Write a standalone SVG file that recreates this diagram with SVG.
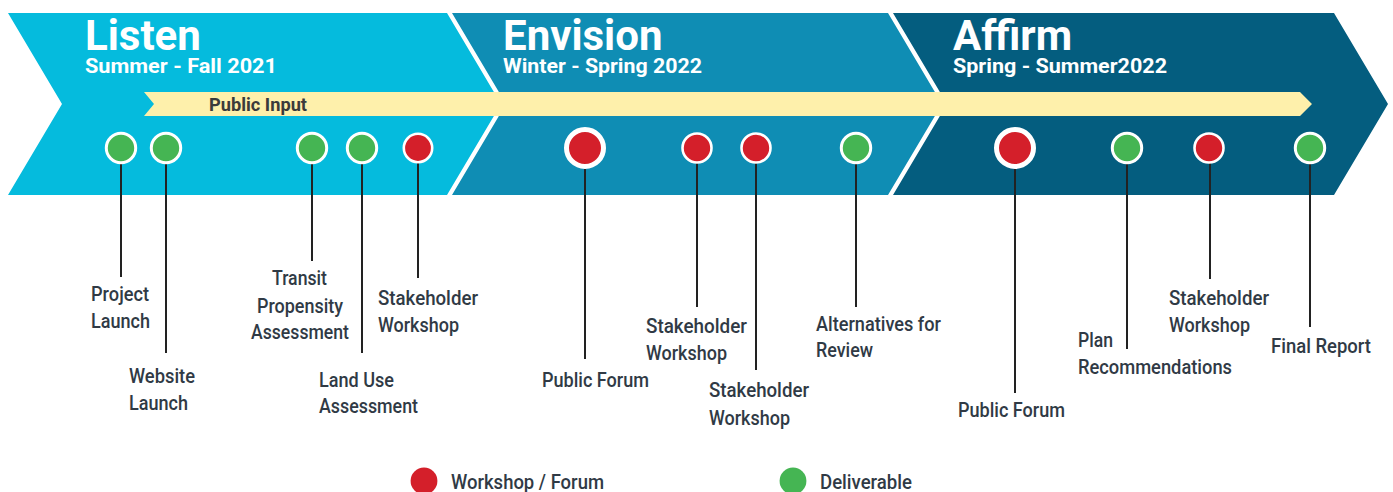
<svg xmlns="http://www.w3.org/2000/svg" width="1393" height="492" viewBox="0 0 1393 492">
<style>
.title{font-family:Roboto,"Liberation Sans",sans-serif;font-weight:700;font-size:42px;fill:#ffffff}
.sub{font-family:Roboto,"Liberation Sans",sans-serif;font-weight:700;font-size:21px;fill:#ffffff}
.lbl{font-family:Roboto,"Liberation Sans",sans-serif;font-weight:500;font-size:20px;fill:#303a45}
.pi{font-family:Roboto,"Liberation Sans",sans-serif;font-weight:700;font-size:17.5px;fill:#3b3b3b}
.g{fill:#45b553;stroke:#ffffff;stroke-width:3}
.r{fill:#d41f2a;stroke:#ffffff;stroke-width:2.6}
.rb{fill:#d41f2a;stroke:#ffffff;stroke-width:5}
.ln{stroke:#222222;stroke-width:2;fill:none}
</style>
<rect width="1393" height="492" fill="#ffffff"/>
<g id="phase-listen">
<polygon points="8,13 447,13 501,104 447,195 8,195 62,104" fill="#05bbdd"/>
<text class="title" x="85" y="50">Listen</text>
<text class="sub" x="85" y="73" textLength="192" lengthAdjust="spacingAndGlyphs">Summer - Fall 2021</text>
</g>
<g id="phase-envision">
<polygon points="452,13 888,13 942,104 888,195 452,195 506,104" fill="#0f8db4"/>
<text class="title" x="503" y="50">Envision</text>
<text class="sub" x="503" y="73" textLength="199" lengthAdjust="spacingAndGlyphs">Winter - Spring 2022</text>
</g>
<g id="phase-affirm">
<polygon points="893,13 1334,13 1388,104 1334,195 893,195 947,104" fill="#045d7f"/>
<text class="title" x="953" y="50">Affirm</text>
<text class="sub" x="953" y="73" textLength="214" lengthAdjust="spacingAndGlyphs">Spring - Summer2022</text>
</g>
<g id="public-input">
<polygon points="144,92 1300,92 1312,104 1300,116 144,116 154,104" fill="#fef0ab"/>
<text class="pi" x="209" y="111" textLength="98" lengthAdjust="spacingAndGlyphs">Public Input</text>
</g>
<g id="connectors">
<line class="ln" x1="121" y1="163" x2="121" y2="277"/>
<line class="ln" x1="166" y1="163" x2="166" y2="353"/>
<line class="ln" x1="312" y1="163" x2="312" y2="261"/>
<line class="ln" x1="362" y1="163" x2="362" y2="353"/>
<line class="ln" x1="418" y1="163" x2="418" y2="278"/>
<line class="ln" x1="585" y1="169" x2="585" y2="359"/>
<line class="ln" x1="697" y1="163" x2="697" y2="307"/>
<line class="ln" x1="756" y1="163" x2="756" y2="370"/>
<line class="ln" x1="856" y1="163" x2="856" y2="307"/>
<line class="ln" x1="1015" y1="169" x2="1015" y2="393"/>
<line class="ln" x1="1127" y1="163" x2="1127" y2="349"/>
<line class="ln" x1="1210" y1="163" x2="1210" y2="279"/>
<line class="ln" x1="1310" y1="163" x2="1310" y2="327"/>
</g>
<g id="project-launch">
<circle class="g" cx="121" cy="148" r="14.7"/>
<text class="lbl" x="91" y="301" textLength="58" lengthAdjust="spacingAndGlyphs">Project</text>
<text class="lbl" x="91" y="328" textLength="59" lengthAdjust="spacingAndGlyphs">Launch</text>
</g>
<g id="website-launch">
<circle class="g" cx="166" cy="148" r="14.7"/>
<text class="lbl" x="129" y="383" textLength="66" lengthAdjust="spacingAndGlyphs">Website</text>
<text class="lbl" x="129" y="410" textLength="59" lengthAdjust="spacingAndGlyphs">Launch</text>
</g>
<g id="transit-propensity">
<circle class="g" cx="312" cy="148" r="14.7"/>
<text class="lbl" x="272" y="285" textLength="55" lengthAdjust="spacingAndGlyphs">Transit</text>
<text class="lbl" x="257" y="313" textLength="86" lengthAdjust="spacingAndGlyphs">Propensity</text>
<text class="lbl" x="251" y="339" textLength="98" lengthAdjust="spacingAndGlyphs">Assessment</text>
</g>
<g id="land-use">
<circle class="g" cx="362" cy="148" r="14.7"/>
<text class="lbl" x="319" y="387" textLength="75" lengthAdjust="spacingAndGlyphs">Land Use</text>
<text class="lbl" x="319" y="413" textLength="99" lengthAdjust="spacingAndGlyphs">Assessment</text>
</g>
<g id="stakeholder-1">
<circle class="r" cx="418" cy="148" r="14.2"/>
<text class="lbl" x="378" y="305" textLength="100" lengthAdjust="spacingAndGlyphs">Stakeholder</text>
<text class="lbl" x="378" y="332" textLength="81" lengthAdjust="spacingAndGlyphs">Workshop</text>
</g>
<g id="public-forum-1">
<circle class="rb" cx="585" cy="148" r="18.5"/>
<text class="lbl" x="542" y="387" textLength="107" lengthAdjust="spacingAndGlyphs">Public Forum</text>
</g>
<g id="stakeholder-2">
<circle class="r" cx="697" cy="148" r="14.5"/>
<text class="lbl" x="646" y="333" textLength="101" lengthAdjust="spacingAndGlyphs">Stakeholder</text>
<text class="lbl" x="646" y="360" textLength="81" lengthAdjust="spacingAndGlyphs">Workshop</text>
</g>
<g id="stakeholder-3">
<circle class="r" cx="756" cy="148" r="14.5"/>
<text class="lbl" x="709" y="397" textLength="100" lengthAdjust="spacingAndGlyphs">Stakeholder</text>
<text class="lbl" x="709" y="425" textLength="81" lengthAdjust="spacingAndGlyphs">Workshop</text>
</g>
<g id="alternatives">
<circle class="g" cx="856" cy="148" r="14.7"/>
<text class="lbl" x="816" y="331" textLength="125" lengthAdjust="spacingAndGlyphs">Alternatives for</text>
<text class="lbl" x="816" y="357" textLength="57" lengthAdjust="spacingAndGlyphs">Review</text>
</g>
<g id="public-forum-2">
<circle class="rb" cx="1015" cy="148" r="18.5"/>
<text class="lbl" x="958" y="417" textLength="107" lengthAdjust="spacingAndGlyphs">Public Forum</text>
</g>
<g id="plan-recommendations">
<circle class="g" cx="1127" cy="148" r="14.7"/>
<text class="lbl" x="1078" y="347" textLength="35" lengthAdjust="spacingAndGlyphs">Plan</text>
<text class="lbl" x="1078" y="374" textLength="154" lengthAdjust="spacingAndGlyphs">Recommendations</text>
</g>
<g id="stakeholder-4">
<circle class="r" cx="1209" cy="148" r="14.5"/>
<text class="lbl" x="1169" y="305" textLength="100" lengthAdjust="spacingAndGlyphs">Stakeholder</text>
<text class="lbl" x="1169" y="332" textLength="81" lengthAdjust="spacingAndGlyphs">Workshop</text>
</g>
<g id="final-report">
<circle class="g" cx="1310" cy="148" r="14.7"/>
<text class="lbl" x="1271" y="353" textLength="100" lengthAdjust="spacingAndGlyphs">Final Report</text>
</g>
<g id="legend">
<circle cx="424" cy="481" r="13.4" fill="#d41f2a"/>
<text class="lbl" x="451" y="489" textLength="153" lengthAdjust="spacingAndGlyphs">Workshop / Forum</text>
<circle cx="793" cy="481" r="13.4" fill="#45b553"/>
<text class="lbl" x="820" y="489" textLength="92" lengthAdjust="spacingAndGlyphs">Deliverable</text>
</g>
</svg>
